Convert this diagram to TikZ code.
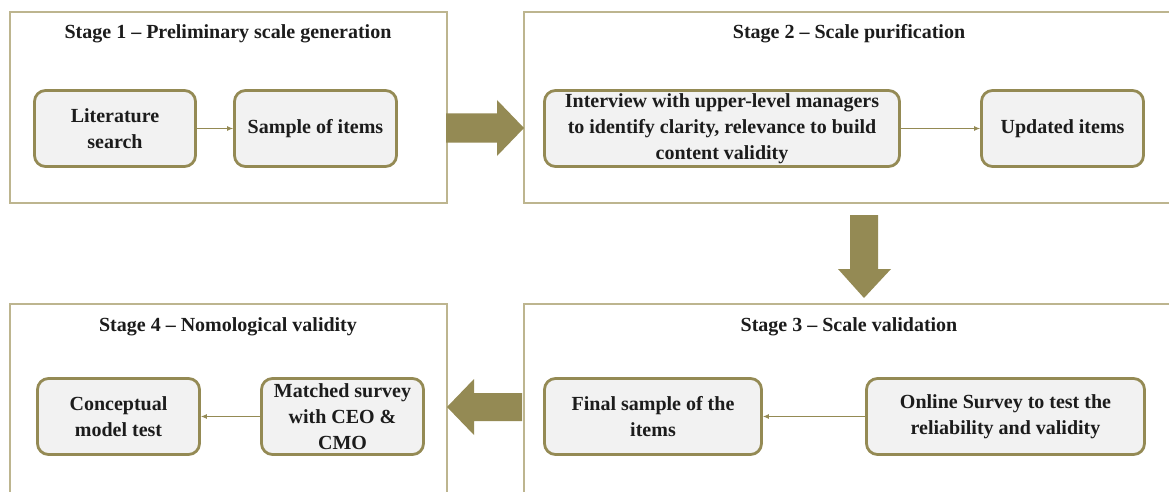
\documentclass[tikz,border=0pt]{standalone}
\usepackage{fontspec}
\setmainfont{Liberation Serif}
\usetikzlibrary{arrows.meta}
\definecolor{olive}{HTML}{948A54}
\definecolor{frameline}{HTML}{BDB58F}
\definecolor{boxfill}{HTML}{F2F2F2}
\definecolor{ink}{HTML}{1C1C1C}
\tikzset{
  stagebox/.style={draw=frameline, line width=1.3pt, fill=white, inner sep=0pt},
  stagetitle/.style={anchor=base, inner sep=0pt, text=ink,
    font=\fontsize{20}{26}\selectfont\bfseries},
  itembox/.style={draw=olive, line width=2.8pt, fill=boxfill, rounded corners=11pt,
    inner sep=0pt, align=center, text=ink,
    font=\fontsize{20}{26}\selectfont\bfseries},
  link/.style={draw=olive, line width=0.9pt, -{Latex[length=6pt,width=5pt]}},
  bigarrow/.style={fill=olive, draw=none}
}
\begin{document}
\begin{tikzpicture}[x=1pt,y=-1pt]
\useasboundingbox (0,0) rectangle (1169,492);
\clip (0,0) rectangle (1169,492);
\fill[white] (0,0) rectangle (1169,492);

% stage frames
\node[stagebox, minimum width=437pt, minimum height=191pt] (s1) at (228.5,107.5) {};
\node[stagebox, minimum width=660pt, minimum height=191pt] (s2) at (854,107.5) {};
\node[stagebox, minimum width=660pt, minimum height=200pt] (s3) at (854,404) {};
\node[stagebox, minimum width=437pt, minimum height=200pt] (s4) at (228.5,404) {};

% stage titles
\node[stagetitle] (t1) at (228,39) {Stage 1 – Preliminary scale generation};
\node[stagetitle] (t2) at (849,39) {Stage 2 – Scale purification};
\node[stagetitle] (t3) at (849,331) {Stage 3 – Scale validation};
\node[stagetitle] (t4) at (228,331) {Stage 4 – Nomological validity};

% stage 1
\node[itembox, minimum width=161pt, minimum height=76pt] (lit) at (115,128.5) {Literature\\search};
\node[itembox, minimum width=162pt, minimum height=76pt] (samp) at (315.5,128.5) {Sample of items};
\draw[link] (lit) -- (samp);

% stage 2
\node[itembox, minimum width=355pt, minimum height=76pt] (intv) at (722,128.5)
  {Interview with upper-level managers\\to identify clarity, relevance to build\\content validity};
\node[itembox, minimum width=162pt, minimum height=76pt] (upd) at (1062.5,128.5) {Updated items};
\draw[link] (intv) -- (upd);

% stage 3
\node[itembox, minimum width=278pt, minimum height=76pt] (online) at (1005.5,416.5)
  {Online Survey to test the\\reliability and validity};
\node[itembox, minimum width=217pt, minimum height=76pt] (final) at (653,416.5)
  {Final sample of the\\items};
\draw[link] (online) -- (final);

% stage 4
\node[itembox, minimum width=162pt, minimum height=76pt] (match) at (342.5,416.5)
  {Matched survey\\with CEO \&\\CMO};
\node[itembox, minimum width=162pt, minimum height=76pt] (concept) at (118.5,416.5)
  {Conceptual\\model test};
\draw[link] (match) -- (concept);

% block arrows between stages
\fill[bigarrow] (446,113.5) -- (497,113.5) -- (497,100) -- (524,128) -- (497,156)
  -- (497,142.5) -- (446,142.5) -- cycle;
\fill[bigarrow] (850,215) -- (878,215) -- (878,269) -- (891,269) -- (864,298)
  -- (838,269) -- (850,269) -- cycle;
\fill[bigarrow] (522,393) -- (474,393) -- (474,379) -- (447,407) -- (474,435)
  -- (474,421) -- (522,421) -- cycle;
\end{tikzpicture}
\end{document}
